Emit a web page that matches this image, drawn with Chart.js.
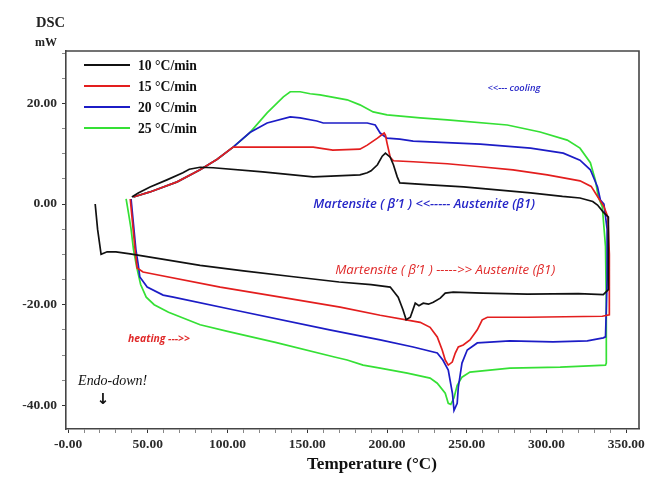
<!DOCTYPE html>
<html>
<head>
<meta charset="utf-8">
<script src="https://cdn.jsdelivr.net/npm/chart.js@4.4.0/dist/chart.umd.min.js"></script>
<style>
  html, body { margin: 0; padding: 0; background: #fff; }
  #wrap { width: 653px; height: 477px; }
</style>
</head>
<body>
<div id="wrap"><canvas id="dscChart" width="653" height="477"></canvas></div>
<script>
// heating rates (legend)
var rates = ['10 °C/min', '15 °C/min', '20 °C/min', '25 °C/min'];
var colors = ['#111111', '#e31e1e', '#1c1cc6', '#35e035'];

// each loop: heating branch left->right, jump up at ~338 °C, cooling branch back
var temp10 = [17, 18.5, 20.7, 24.5, 30, 38.9, 60, 82.8, 110, 140, 170, 190, 202, 207, 210, 212, 214.6, 217.7, 220, 222.7, 226, 229, 233.4, 236.5, 241.5, 260, 288, 320, 335.6, 338.8, 338.8, 338.8, 335.6, 332, 329, 321, 310, 290, 269, 248, 227, 208, 206.4, 204, 202, 199, 197, 194, 190, 187.6, 183, 153.7, 122, 91, 82.8, 76, 72, 62, 51.4, 44, 40];
var dsc10 = [0, -5, -10, -9.5, -9.5, -9.9, -11, -12.2, -13.3, -14.4, -15.5, -16, -16.5, -18.5, -21, -23, -22.5, -19.7, -20.2, -19.7, -19.9, -19.5, -18.7, -17.7, -17.5, -17.7, -17.9, -17.8, -18, -17, -8.5, -2.6, -1.6, -0.2, 0.5, 1.2, 1.5, 2.2, 2.8, 3.4, 3.8, 4.2, 5.4, 7.8, 9.3, 10.1, 9.5, 7.8, 6.6, 6.2, 5.8, 5.4, 6.4, 7.2, 7.3, 6.9, 6.2, 4.8, 3.4, 2.2, 1.4];

var temp15 = [39, 40.5, 42, 43.3, 47, 53.3, 95.4, 137, 170.6, 195.7, 220.8, 227, 231.5, 234.6, 236.5, 238.4, 240.9, 242.8, 244.7, 247.8, 252, 256.6, 259.7, 262.9, 277, 288, 335, 339.4, 339.4, 338.5, 336, 332, 328, 321, 300.5, 279, 258.5, 237.8, 216.4, 204, 202, 200, 199, 198.2, 194, 187.6, 183, 166, 153.7, 103.5, 93.5, 82.8, 68.4, 51.4, 41];
var dsc15 = [1, -4, -9, -12.7, -13.5, -13.9, -16.5, -18.7, -20.5, -22.1, -23.5, -24.5, -26.4, -29, -31, -32, -31.4, -29.6, -28.4, -28, -27, -25, -23, -22.5, -22.5, -22.5, -22.3, -22, -10, -2.6, -0.5, 1.5, 3.5, 4.6, 5.8, 6.8, 7.4, 8, 8.4, 8.6, 9.3, 12.1, 13.7, 14.1, 13.1, 11.7, 10.9, 10.7, 11.3, 11.3, 8.9, 6.8, 4.4, 2.4, 1.4];

var temp20 = [39.5, 41, 42.5, 44, 45, 49.6, 59.6, 66, 103.5, 164, 195.7, 216.4, 231.5, 235, 238.4, 241, 242, 244, 244.7, 247, 250.3, 256.6, 267, 277, 304, 325.6, 335.6, 337, 338, 338, 336, 333.8, 332, 327.5, 321, 310.5, 290, 258.5, 216.4, 208, 200, 195.7, 192.6, 187.6, 160, 156, 145.5, 139.3, 124.8, 114, 103.5, 93.5, 82.8, 68.4, 51.4, 41];
var dsc20 = [1, -4, -9, -12.1, -14.5, -16.5, -18.1, -18.5, -21, -25, -27, -28.4, -29.6, -31, -33, -37.6, -41, -39.6, -36.4, -31.6, -29, -27.6, -27.4, -27.2, -27.4, -27.2, -26.6, -26.4, -15, -5, 0, 0.8, 3.4, 6.8, 8.7, 10.1, 11.1, 11.9, 12.5, 12.9, 13.1, 14.1, 15.7, 16.1, 16.1, 16.5, 17.1, 17.3, 16.1, 14.2, 11.3, 8.9, 6.8, 4.4, 2.4, 1.4];

var temp25 = [36.4, 38, 39.5, 41, 43, 45.5, 49, 54, 63, 82.8, 100, 130, 167, 175, 185, 195.7, 212.7, 227, 231.5, 236.5, 238.4, 240, 242, 244, 247, 252, 277, 308.6, 323, 337, 337.5, 337.5, 337, 335, 332.5, 330.6, 327.5, 321, 313, 296, 275.4, 237.8, 220.8, 200, 191.3, 183, 175, 158, 151.8, 145.5, 139.3, 135, 124.8, 114, 103.5, 93.5, 82.8, 68.4, 51.4, 41];
var dsc25 = [1, -2, -5, -9, -12.5, -16, -18.5, -20, -21.5, -24, -25.3, -27.5, -30.4, -31, -32, -32.6, -33.6, -34.6, -35.6, -37.6, -39.6, -39.8, -38.5, -36, -34.4, -33.4, -32.6, -32.4, -32.2, -32, -31.6, -20, -8.5, -0.6, 1.4, 4.8, 8.2, 11.1, 12.7, 14.3, 15.7, 16.7, 17.1, 17.7, 18.3, 19.7, 20.7, 21.7, 21.9, 22.3, 22.3, 21.3, 18.1, 14.2, 11.3, 8.9, 6.8, 4.4, 2.4, 1.4];

var temps = [temp10, temp15, temp20, temp25];
var dscs = [dsc10, dsc15, dsc20, dsc25];

function toPoints(xs, ys) {
    var pts = [];
    for (var i = 0; i < xs.length; i++) {
        pts.push({x: xs[i], y: ys[i]});
    }
    return pts;
}

var datasets = rates.map(function(r, i) {
    return {
        label: r,
        data: toPoints(temps[i], dscs[i]),
        borderColor: colors[i],
        backgroundColor: colors[i],
        borderWidth: 1.7,
        pointRadius: 0,
        showLine: true,
        tension: 0,
        fill: false
    };
});

var serif = '"Liberation Serif", "Times New Roman", serif';
var sans = '"Open Sans", "DejaVu Sans", sans-serif';

function fitText(ctx, text, x, y, width, style, family, color) {
    ctx.font = style + ' 20px ' + family;
    var size = 20 * width / ctx.measureText(text).width;
    ctx.font = style + ' ' + size.toFixed(2) + 'px ' + family;
    ctx.fillStyle = color;
    ctx.textAlign = 'left';
    ctx.textBaseline = 'middle';
    ctx.fillText(text, x, y);
}

var decor = {
    id: 'decor',
    afterDraw: function(chart) {
        var ctx = chart.ctx;
        var a = chart.chartArea;
        var xs = chart.scales.x, ys = chart.scales.y;
        ctx.save();

        // frame (top + right, left/bottom come from the axes)
        ctx.strokeStyle = '#454545';
        ctx.lineWidth = 1.6;
        ctx.beginPath();
        ctx.moveTo(a.left, a.top);
        ctx.lineTo(a.right, a.top);
        ctx.lineTo(a.right, a.bottom);
        ctx.stroke();

        // legend inside plot
        chart.data.datasets.forEach(function(ds, i) {
            var ly = a.top + 14 + i * 21;
            ctx.strokeStyle = ds.borderColor;
            ctx.lineWidth = 2;
            ctx.beginPath();
            ctx.moveTo(a.left + 18, ly);
            ctx.lineTo(a.left + 64, ly);
            ctx.stroke();
            fitText(ctx, ds.label, a.left + 72, ly + 1, 59, 'bold', serif, '#111');
        });

        // annotations
        fitText(ctx, '<<--- cooling', xs.getPixelForValue(263), ys.getPixelForValue(22.9), 53, '600 italic', sans, '#2626c8');
        fitText(ctx, 'Martensite ( \u03b2\u20191 ) <<----- Austenite (\u03b21)', xs.getPixelForValue(153.7), ys.getPixelForValue(0), 222, '600 italic', sans, '#2626c8');
        fitText(ctx, 'Martensite ( \u03b2\u20191 ) ----->> Austenite (\u03b21)', xs.getPixelForValue(167.5), ys.getPixelForValue(-13.1), 220, 'italic', sans, '#e02a2a');
        fitText(ctx, 'heating --->>', xs.getPixelForValue(37.6), ys.getPixelForValue(-26.8), 62, 'bold italic', sans, '#e02a2a');
        fitText(ctx, 'Endo-down!', xs.getPixelForValue(6.3), ys.getPixelForValue(-35.2), 69, 'italic', serif, '#111');
        ctx.font = 'bold 15px "DejaVu Sans", sans-serif';
        ctx.textAlign = 'center';
        ctx.fillStyle = '#111';
        ctx.fillText('\u2193', xs.getPixelForValue(22), ys.getPixelForValue(-39));

        // axis titles
        fitText(ctx, 'DSC', 36, 23, 29, 'bold', serif, '#222');
        fitText(ctx, 'mW', 35, 43, 22, 'bold', serif, '#222');
        fitText(ctx, 'Temperature (\u00b0C)', 307, 465, 130, 'bold', serif, '#111');
        ctx.restore();
    }
};

// rebuild ticks on round steps (chart.js drops the ones near a non-round min/max)
function stepTicks(step) {
    return function(scale) {
        var ticks = [];
        for (var v = Math.ceil(scale.min / step) * step; v <= scale.max; v += step) {
            ticks.push({value: v});
        }
        scale.ticks = ticks;
    };
}

var ctx = document.getElementById('dscChart').getContext('2d');

var dscChart = new Chart(ctx, {
    type: 'scatter',
    data: { datasets: datasets },
    options: {
        responsive: false,
        animation: false,
        layout: { padding: { top: 51, right: 14, left: 0, bottom: 0 } },
        plugins: {
            legend: { display: false },
            tooltip: { enabled: false }
        },
        scales: {
            x: {
                type: 'linear',
                min: -1.3,
                max: 358,
                afterBuildTicks: stepTicks(10),
                afterFit: function(scale) { scale.height = 48; },
                border: { display: true, color: '#454545', width: 1.6 },
                grid: {
                    drawOnChartArea: false,
                    drawTicks: true,
                    tickLength: 4,
                    tickColor: function(c) { return c.tick && c.tick.value % 50 === 0 ? '#333' : '#888'; }
                },
                ticks: {
                    autoSkip: false,
                    maxRotation: 0,
                    padding: 3,
                    color: '#2b2b2b',
                    font: { family: serif, size: 13.5, weight: 'bold' },
                    callback: function(v) {
                        if (v % 50 !== 0) return '';
                        return v === 0 ? '-0.00' : v.toFixed(2);
                    }
                }
            },
            y: {
                type: 'linear',
                min: -44.7,
                max: 30.4,
                afterBuildTicks: stepTicks(5),
                afterFit: function(scale) { scale.width = 66; },
                border: { display: true, color: '#454545', width: 1.6 },
                grid: {
                    drawOnChartArea: false,
                    drawTicks: true,
                    tickLength: 4,
                    tickColor: function(c) { return c.tick && c.tick.value % 20 === 0 ? '#333' : '#888'; }
                },
                ticks: {
                    autoSkip: false,
                    padding: 5,
                    color: '#2b2b2b',
                    font: { family: serif, size: 13.5, weight: 'bold' },
                    callback: function(v) {
                        if (v % 20 !== 0) return '';
                        return (v === 0 ? 0 : v).toFixed(2);
                    }
                }
            }
        }
    },
    plugins: [decor]
});
</script>
</body>
</html>
